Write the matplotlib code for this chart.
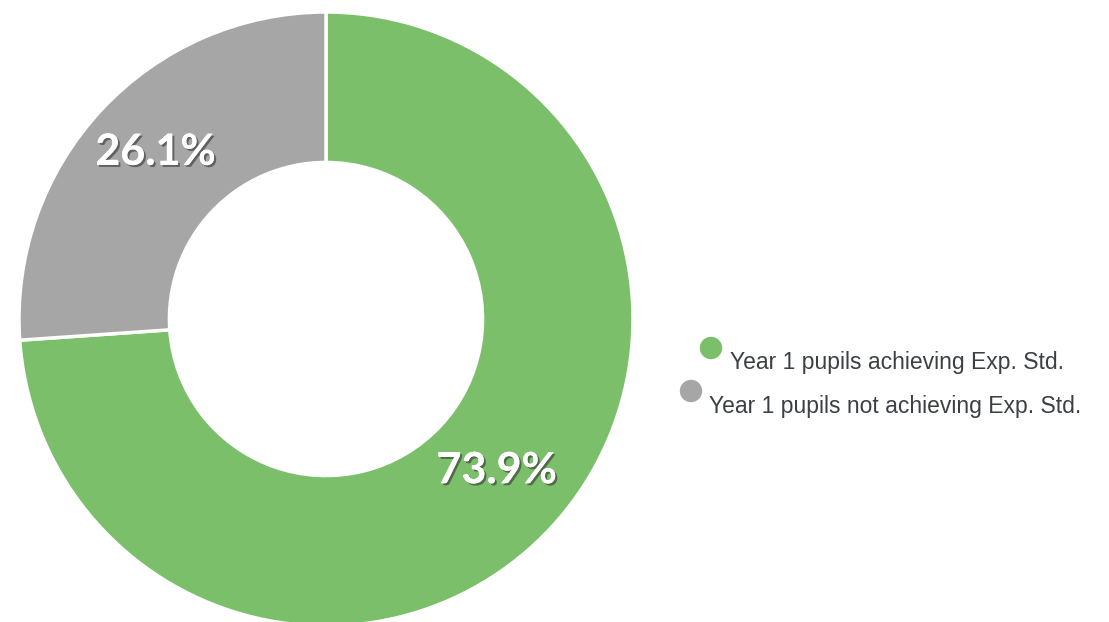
import matplotlib
matplotlib.use("Agg")
import matplotlib.pyplot as plt
import matplotlib.patheffects as pe
import matplotlib.transforms as mtransforms

labels = ["Year 1 pupils achieving Exp. Std.", "Year 1 pupils not achieving Exp. Std."]
values = [73.9, 26.1]
colors = ["#7bbf6b", "#a6a6a6"]

W, H = 1109, 622
fig = plt.figure(figsize=(W / 100, H / 100), dpi=100)
cx, cy, R = 326, 319, 307
ax = fig.add_axes([(cx - R) / W, (H - cy - R) / H, 2 * R / W, 2 * R / H])
wedges, texts, autotexts = ax.pie(
    values, colors=colors, startangle=90, counterclock=False,
    radius=1.0, autopct=lambda p: f"{p:.1f}%", pctdistance=0.76,
    wedgeprops=dict(width=0.49, edgecolor="white", linewidth=2.5),
)
for t in autotexts:
    t.set_fontfamily("Lato")
    t.set_fontweight("bold")
    t.set_fontsize(31)
    t.set_color("white")
    t.set_transform(mtransforms.offset_copy(t.get_transform(), fig=fig, x=0, y=8, units="dots"))
    t.set_path_effects([pe.withSimplePatchShadow(offset=(1.5, -1.5), shadow_rgbFace="#333333", alpha=0.6),
                        pe.Normal()])
ax.set_xlim(-1, 1)
ax.set_ylim(-1, 1)
ax.set_aspect("equal")
ax.axis("off")

# legend
lax = fig.add_axes([0, 0, 1, 1])
lax.set_xlim(0, W)
lax.set_ylim(H, 0)
lax.axis("off")
marker_xy = [(711, 348), (691, 391)]
text_xy = [(730, 362), (709, 406)]
for (mx, my), (tx, ty), lab, c in zip(marker_xy, text_xy, labels, colors):
    lax.scatter([mx], [my], s=260, color=c, edgecolors="none")
    lax.text(tx, ty, lab, fontsize=16.5, color="#3c4043", va="center", ha="left",
             fontfamily="Liberation Sans")

fig.savefig("out.png", dpi=100)
